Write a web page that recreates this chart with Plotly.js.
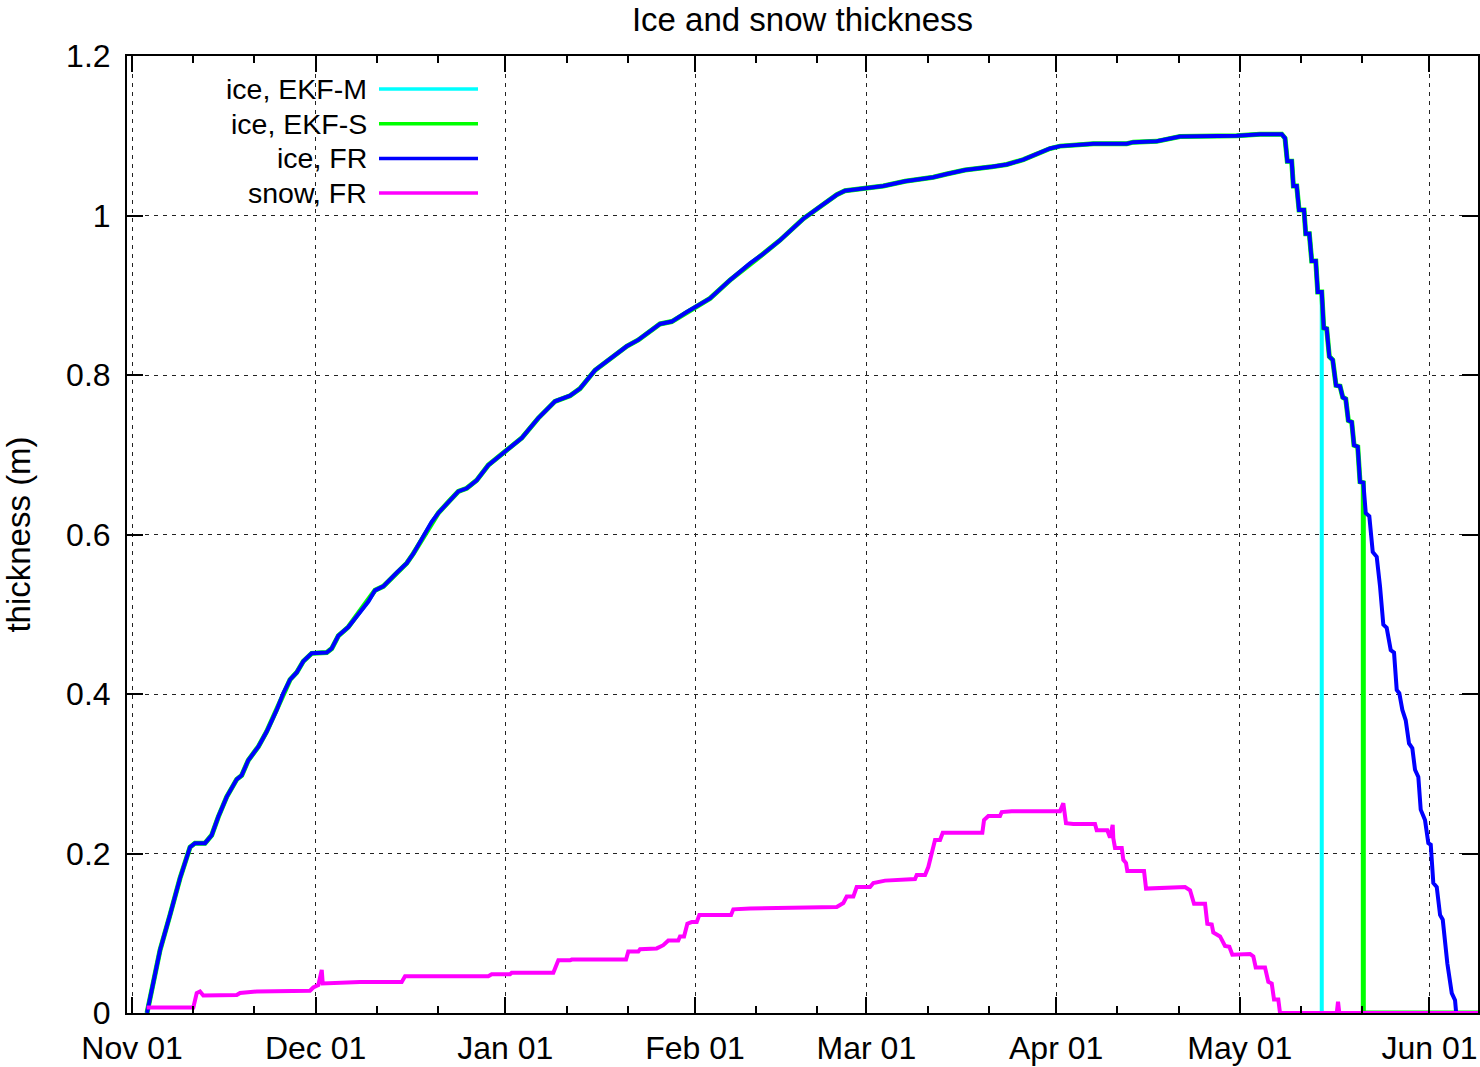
<!DOCTYPE html>
<html>
<head>
<meta charset="utf-8">
<script src="https://cdn.plot.ly/plotly-3.0.1.min.js"></script>
<style>
  html, body { margin: 0; padding: 0; background: #fff; }
  #chart { width: 1480px; height: 1067px; }
</style>
</head>
<body>
<div id="chart"></div>
<script>
// x values are days since Nov 01
var iceDay = [2.45, 4.58, 6.21, 7.84, 9.48, 10.29, 11.93, 13.02, 14.10, 15.47,
    17.11, 17.92, 19.00, 20.64, 22.01, 23.64, 24.72, 25.82, 26.91, 27.99,
    29.36, 31.81, 32.63, 33.71, 35.34, 36.98, 38.61, 39.71, 41.06, 43.25,
    44.89, 45.96, 47.60, 48.97, 50.05, 51.96, 53.32, 54.69, 56.32, 58.22,
    60.67, 63.68, 66.39, 69.12, 71.57, 73.20, 75.65, 77.57, 80.83, 82.73,
    86.27, 88.19, 90.64, 94.44, 97.71, 100.98, 103.15, 105.88, 109.69, 112.42,
    115.15, 116.50, 120.05, 122.76, 126.31, 130.93, 133.12, 136.11, 140.47, 142.92,
    145.64, 148.37, 150.00, 151.63, 154.90, 157.08, 162.53, 163.61, 167.43, 169.07,
    171.24, 180.50, 184.31, 187.86, 188.40, 188.77, 189.49, 189.76, 190.31, 190.69,
    191.50, 191.78, 192.37, 192.76, 193.42, 193.74, 194.40, 194.72, 195.21, 195.64,
    196.19, 196.73, 197.39, 197.83, 198.32, 198.74, 199.30, 199.67, 200.28, 200.65,
    201.19, 201.59, 202.17, 202.73, 203.38, 203.92, 204.46, 205.01, 205.67, 206.21,
    206.65, 207.07, 207.57, 208.12, 208.66, 209.20, 209.64, 210.18, 210.57, 211.27,
    211.81, 212.21, 212.63, 213.19, 213.73, 214.17, 214.92, 215.64, 216.18, 216.34,
    216.50, 219.93];
var iceFr = [0.000, 0.079, 0.123, 0.169, 0.208, 0.213, 0.213, 0.223, 0.246, 0.271,
    0.293, 0.298, 0.317, 0.334, 0.353, 0.380, 0.401, 0.418, 0.427, 0.441,
    0.451, 0.452, 0.457, 0.473, 0.484, 0.501, 0.516, 0.530, 0.535, 0.552,
    0.564, 0.576, 0.597, 0.616, 0.627, 0.643, 0.654, 0.658, 0.668, 0.687,
    0.702, 0.721, 0.746, 0.767, 0.774, 0.783, 0.806, 0.817, 0.836, 0.844,
    0.864, 0.867, 0.879, 0.896, 0.919, 0.940, 0.952, 0.969, 0.996, 1.011,
    1.026, 1.031, 1.034, 1.037, 1.043, 1.048, 1.052, 1.057, 1.061, 1.064,
    1.070, 1.078, 1.084, 1.087, 1.089, 1.090, 1.090, 1.092, 1.093, 1.096,
    1.099, 1.100, 1.102, 1.102, 1.097, 1.068, 1.068, 1.037, 1.037, 1.007,
    1.007, 0.977, 0.977, 0.943, 0.943, 0.904, 0.904, 0.859, 0.858, 0.823,
    0.819, 0.787, 0.786, 0.772, 0.770, 0.743, 0.741, 0.712, 0.710, 0.666,
    0.665, 0.627, 0.623, 0.578, 0.572, 0.535, 0.487, 0.483, 0.455, 0.452,
    0.405, 0.401, 0.380, 0.367, 0.338, 0.332, 0.305, 0.296, 0.255, 0.242,
    0.213, 0.211, 0.163, 0.158, 0.123, 0.117, 0.062, 0.025, 0.016, 0.002,
    0.000, 0.000];

// EKF runs follow the FR ice curve, then fall to zero
var ekfMDrop = 194.40;
var ekfMTailDay = [194.40, 219.93];
var ekfMTail = [0, 0];
var ekfSDrop = 201.19;
var ekfSTailDay = [201.19, 219.93];
var ekfSTail = [0, 0];

var snowDay = [2.40, 10.02, 10.57, 11.11, 11.65, 17.11, 17.65, 20.38, 29.08, 29.62,
    30.44, 31.00, 31.16, 37.25, 44.07, 44.61, 58.22, 58.77, 61.76, 62.04,
    68.84, 69.28, 69.66, 71.57, 71.85, 80.72, 81.09, 82.73, 83.01, 85.73,
    86.81, 87.63, 89.26, 89.54, 90.20, 90.74, 91.45, 92.27, 92.70, 97.88,
    98.25, 100.98, 115.15, 116.23, 116.78, 117.86, 118.41, 120.59, 121.13, 123.04,
    127.94, 128.22, 129.58, 130.11, 131.21, 132.03, 132.47, 138.94, 139.22, 139.92,
    141.83, 142.11, 143.74, 151.63, 152.17, 152.61, 153.81, 157.35, 157.63, 159.36,
    159.80, 160.24, 160.34, 160.62, 161.72, 161.98, 162.42, 162.63, 165.36, 165.69,
    172.06, 172.88, 173.53, 175.33, 175.70, 176.42, 176.68, 177.78, 178.59, 179.30,
    179.79, 182.68, 183.22, 183.61, 185.13, 185.67, 186.23, 186.60, 187.30, 187.58,
    196.85, 197.06, 197.27, 219.93];
var snowFr = [0.007, 0.007, 0.025, 0.027, 0.022, 0.0225, 0.025, 0.027, 0.028, 0.032,
    0.035, 0.054, 0.037, 0.039, 0.039, 0.046, 0.046, 0.0485, 0.0485, 0.0505,
    0.0505, 0.058, 0.066, 0.066, 0.067, 0.067, 0.077, 0.077, 0.080, 0.081,
    0.085, 0.091, 0.091, 0.096, 0.096, 0.112, 0.114, 0.114, 0.123, 0.123,
    0.130, 0.131, 0.133, 0.138, 0.146, 0.146, 0.158, 0.158, 0.163, 0.166,
    0.168, 0.173, 0.173, 0.183, 0.217, 0.217, 0.226, 0.226, 0.242, 0.247,
    0.247, 0.252, 0.253, 0.253, 0.263, 0.238, 0.237, 0.237, 0.229, 0.229,
    0.220, 0.236, 0.219, 0.207, 0.207, 0.192, 0.188, 0.178, 0.178, 0.156,
    0.158, 0.154, 0.137, 0.137, 0.112, 0.111, 0.101, 0.096, 0.084, 0.083,
    0.073, 0.074, 0.071, 0.057, 0.057, 0.039, 0.037, 0.017, 0.017, 0.000,
    0.000, 0.014, 0.000, 0.000];

var monthDays = [0, 30, 61, 92, 120, 151, 181, 212];
var monthLabels = ['Nov 01', 'Dec 01', 'Jan 01', 'Feb 01', 'Mar 01', 'Apr 01', 'May 01', 'Jun 01'];
var minorDays = [10, 20, 40, 50, 71, 81, 102, 112, 130, 140, 161, 171, 191, 201];

var seriesNames = ['ice, EKF-M', 'ice, EKF-S', 'ice, FR', 'snow, FR'];
var seriesColors = ['#00ffff', '#00ff00', '#0000ff', '#ff00ff'];

function buildEkf(dropDay, tailDay, tail) {
    var xs = [], ys = [];
    for (var i = 0; i < iceDay.length; i++) {
        if (iceDay[i] <= dropDay) {
            xs.push(iceDay[i]);
            ys.push(iceFr[i]);
        }
    }
    return { x: xs.concat(tailDay), y: ys.concat(tail) };
}

var ekfM = buildEkf(ekfMDrop, ekfMTailDay, ekfMTail);
var ekfS = buildEkf(ekfSDrop, ekfSTailDay, ekfSTail);

var seriesData = [ekfM, ekfS, { x: iceDay, y: iceFr }, { x: snowDay, y: snowFr }];
var lineWidths = [4, 5, 4, 4];

var traces = [];
for (var i = 0; i < seriesData.length; i++) {
    traces.push({
        type: 'scatter',
        mode: 'lines',
        x: seriesData[i].x,
        y: seriesData[i].y,
        name: seriesNames[i],
        line: { color: seriesColors[i], width: lineWidths[i] },
        hoverinfo: 'skip',
        showlegend: false
    });
}

// legend drawn gnuplot style: text on the left, line sample on the right
var plotW = 1351, plotH = 957;
var annotations = [], shapes = [];
for (var i = 0; i < seriesNames.length; i++) {
    var rowY = 1 - (33 + i * 34.7) / plotH;
    annotations.push({
        xref: 'paper', yref: 'paper',
        x: 242 / plotW, y: rowY,
        xanchor: 'right', yanchor: 'middle',
        text: seriesNames[i], showarrow: false,
        font: { size: 28.5, color: '#000' }
    });
    shapes.push({
        type: 'line', xref: 'paper', yref: 'paper',
        x0: 252 / plotW, x1: 351 / plotW, y0: rowY, y1: rowY,
        line: { color: seriesColors[i], width: 3.5 }
    });
}

var gridStyle = { gridcolor: '#222', gridwidth: 1, griddash: '4px,5px' };

var layout = {
    width: 1480,
    height: 1067,
    margin: { l: 127, r: 2, t: 56, b: 54 },
    paper_bgcolor: '#fff',
    plot_bgcolor: '#fff',
    font: { family: 'Liberation Sans, Arial, sans-serif', size: 32, color: '#000' },
    title: {
        text: 'Ice and snow thickness',
        font: { size: 33 },
        x: 0.5, xref: 'paper',
        y: 1 - 19 / 1067, yref: 'container', yanchor: 'middle'
    },
    xaxis: Object.assign({
        range: [-0.82, 219.93],
        tickmode: 'array',
        tickvals: monthDays,
        ticktext: monthLabels,
        ticks: 'inside', ticklen: 16, tickwidth: 2, tickcolor: '#000',
        showline: true, linecolor: '#000', linewidth: 2, mirror: 'allticks',
        showgrid: true, zeroline: false,
        ticklabelstandoff: 6,
        minor: {
            tickmode: 'array', tickvals: minorDays,
            ticks: 'inside', ticklen: 7, tickwidth: 2, tickcolor: '#000',
            showgrid: false
        },
        automargin: false
    }, gridStyle),
    yaxis: Object.assign({
        range: [0, 1.2],
        tickmode: 'linear', tick0: 0, dtick: 0.2,
        ticks: 'inside', ticklen: 16, tickwidth: 2, tickcolor: '#000',
        showline: true, linecolor: '#000', linewidth: 2, mirror: 'allticks',
        showgrid: true, zeroline: false,
        ticklabelstandoff: 8,
        title: { text: 'thickness (m)', font: { size: 33 }, standoff: 40 },
        automargin: false
    }, gridStyle),
    annotations: annotations,
    shapes: shapes
};

Plotly.newPlot('chart', traces, layout, { displayModeBar: false, staticPlot: true });
</script>
</body>
</html>
